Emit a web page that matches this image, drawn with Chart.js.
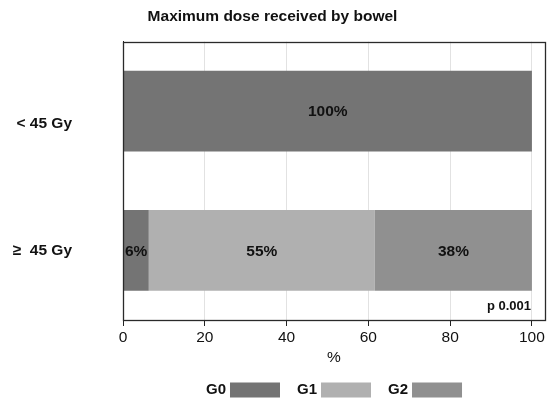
<!DOCTYPE html>
<html>
<head>
<meta charset="utf-8">
<script src="https://cdn.jsdelivr.net/npm/chart.js@4"></script>
<style>
html,body{margin:0;padding:0;background:#fff;}
#wrap{width:550px;height:402px;position:relative;}
</style>
</head>
<body>
<div id="wrap"><canvas id="c" width="550" height="402"></canvas></div>
<script>
const categories = ['< 45 Gy', '\u2265  45 Gy'];
const seriesNames = ['G0', 'G1', 'G2'];
const g0 = [100, 6.3];
const g1 = [0, 55.3];
const g2 = [0, 38.4];
const xTicks = [0, 20, 40, 60, 80, 100];
const pValue = 'p 0.001';
const colors = ['#747474', '#b0b0b0', '#909090'];

const seriesValues = [g0, g1, g2];
const FONT = '"Liberation Sans", Arial, sans-serif';

const labelPlugin = {
  id: 'labels',
  afterDatasetsDraw(chart) {
    const ctx = chart.ctx;
    ctx.save();
    ctx.font = 'bold 15.5px ' + FONT;
    ctx.fillStyle = '#111';
    ctx.textAlign = 'center';
    ctx.textBaseline = 'middle';
    chart.data.datasets.forEach((ds, di) => {
      const meta = chart.getDatasetMeta(di);
      meta.data.forEach((bar, i) => {
        const v = ds.data[i];
        if (!v) return;
        const x = (bar.x + bar.base) / 2;
        ctx.fillText(Math.round(v) + '%', x, bar.y + 1);
      });
    });
    const a = chart.chartArea;
    ctx.font = 'bold 13px ' + FONT;
    ctx.textAlign = 'right';
    ctx.fillText(pValue, a.right - 14, a.bottom - 14);
    // frame
    ctx.strokeStyle = '#2a2a2a';
    ctx.lineWidth = 1.3;
    ctx.strokeRect(Math.round(a.left) + 0.5, Math.round(a.top) + 0.5, Math.round(a.right - a.left), Math.round(a.bottom - a.top));
    // custom legend: text then swatch, centred on plot area
    ctx.font = 'bold 15px ' + FONT;
    ctx.textAlign = 'left';
    const boxW = 50, boxH = 15, gapTB = 4, gapItems = 17;
    const widths = seriesNames.map(n => ctx.measureText(n).width + gapTB + boxW);
    const total = widths.reduce((s, w) => s + w, 0) + gapItems * (seriesNames.length - 1);
    let x = (a.left + a.right) / 2 - total / 2;
    const yc = 390;
    seriesNames.forEach((n, i) => {
      const tw = ctx.measureText(n).width;
      ctx.fillStyle = '#111';
      ctx.fillText(n, x, yc);
      ctx.fillStyle = colors[i];
      ctx.fillRect(x + tw + gapTB, yc - boxH / 2, boxW, boxH);
      x += widths[i] + gapItems;
    });
    ctx.restore();
  }
};

new Chart(document.getElementById('c'), {
  type: 'bar',
  data: {
    labels: categories,
    datasets: seriesNames.map((n, i) => ({
      label: n,
      data: seriesValues[i],
      backgroundColor: colors[i],
      borderWidth: 0,
      barPercentage: 0.58,
      categoryPercentage: 1.0
    }))
  },
  options: {
    indexAxis: 'y',
    responsive: false,
    animation: false,
    layout: { padding: { left: 0, right: 5, top: 0, bottom: 32 } },
    scales: {
      x: {
        stacked: true,
        min: 0,
        max: 103.2,
        bounds: 'data',
        afterBuildTicks(axis) { axis.ticks = xTicks.map(v => ({ value: v })); },
        afterFit(axis) { axis.height = 50; },
        ticks: {
          font: { family: FONT, size: 15.5 },
          color: '#111',
          padding: 2,
          includeBounds: false
        },
        grid: { color: '#e2e2e2', tickColor: '#222', tickLength: 6, drawTicks: true },
        border: { display: true, color: '#222' },
        title: {
          display: true,
          text: '%',
          font: { family: FONT, size: 15.5 },
          color: '#111',
          padding: { top: 0, bottom: 3 }
        }
      },
      y: {
        stacked: true,
        grid: { display: false, drawTicks: false },
        border: { display: true, color: '#222' },
        ticks: {
          font: { family: FONT, size: 15.5, weight: 'bold', lineHeight: '26px' },
          color: '#111',
          padding: 51,
          callback(v, i) {
            const l = this.getLabelForValue(v);
            return i === 0 ? ['', l] : l;
          }
        },
        afterFit(axis) { axis.width = 123; axis.paddingTop = 0; axis.paddingBottom = 0; }
      }
    },
    plugins: {
      title: {
        display: true,
        text: 'Maximum dose received by bowel',
        font: { family: FONT, size: 15.5, weight: 'bold' },
        color: '#111',
        padding: { top: 7, bottom: 16 }
      },
      legend: { display: false },
      tooltip: { enabled: false }
    }
  },
  plugins: [labelPlugin]
});
</script>
</body>
</html>
